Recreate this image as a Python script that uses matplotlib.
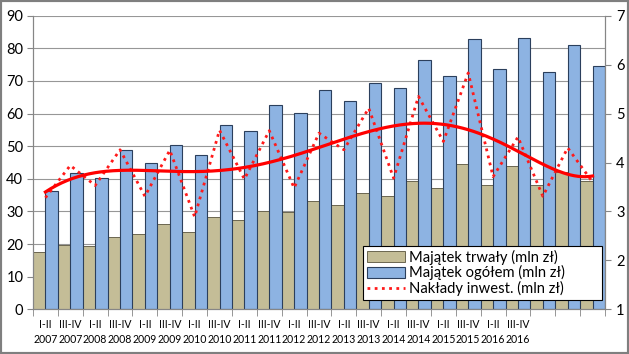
import numpy as np
import matplotlib.pyplot as plt
from matplotlib.patches import Patch, Rectangle
from matplotlib.lines import Line2D

plt.rcParams['font.family'] = ['Lato', 'DejaVu Sans']

# category labels (last three periods have no label on the axis)
periods = ['I-II\n2007', 'III-IV\n2007', 'I-II\n2008', 'III-IV\n2008', 'I-II\n2009',
           'III-IV\n2009', 'I-II\n2010', 'III-IV\n2010', 'I-II\n2011', 'III-IV\n2011',
           'I-II\n2012', 'III-IV\n2012', 'I-II\n2013', 'III-IV\n2013', 'I-II\n2014',
           'III-IV\n2014', 'I-II\n2015', 'III-IV\n2015', 'I-II\n2016', 'III-IV\n2016',
           '', '', '']

# Majatek trwaly (mln zl) - left axis
majatek_trwaly = [17.5, 19.8, 19.3, 22.1, 23.0, 26.0, 23.7, 28.3, 27.3, 30.1, 29.8, 33.1,
                  31.9, 35.6, 34.7, 39.4, 37.1, 44.6, 38.1, 44.0, 38.1, 42.2, 39.3]
# Majatek ogolem (mln zl) - left axis
majatek_ogolem = [36.2, 41.7, 40.3, 48.7, 44.8, 50.3, 47.2, 56.6, 54.8, 62.7, 60.1, 67.1,
                  63.8, 69.3, 67.8, 76.5, 71.6, 83.0, 73.6, 83.3, 72.7, 81.0, 74.5]
# Naklady inwest. (mln zl) - right axis
naklady = [3.28, 3.94, 3.53, 4.26, 3.31, 4.25, 2.89, 4.66, 3.66, 4.65, 3.48, 4.60,
           4.26, 5.11, 3.68, 5.35, 4.43, 5.83, 3.71, 4.52, 3.31, 4.30, 3.60]

x = np.arange(len(periods))

fig = plt.figure(figsize=(6.29, 3.54), dpi=100)
ax = fig.add_axes([33 / 629, (354 - 309.3) / 354, 572 / 629, 293.6 / 354])

grid_col = '#979797'
spine_col = '#868686'

# bars: tan on the left half, blue on the right half of each category
ax.bar(x - 0.25, majatek_trwaly, width=0.5, color='#c4bd97', edgecolor='#6b6650', linewidth=0.7, zorder=2)
ax.bar(x + 0.25, majatek_ogolem, width=0.5, color='#8db3e2', edgecolor='#2b3f5c', linewidth=0.8, zorder=2)

ax.set_xlim(-0.5, len(periods) - 0.5)
ax.set_ylim(0, 90)
ax.set_yticks(np.arange(0, 91, 10))
ax.yaxis.grid(True, color=grid_col, linewidth=0.8)
ax.set_axisbelow(True)

ax.set_xticks(x)
ax.set_xticklabels(periods, fontsize=7.6, linespacing=1.4)
ax.set_xticks(np.arange(-0.5, len(periods), 1), minor=True)
ax.tick_params(axis='x', which='major', length=0, pad=7)
ax.tick_params(axis='x', which='minor', length=5, color=spine_col, direction='out')
ax.tick_params(axis='y', labelsize=10.5, length=4, color=spine_col, pad=3)

ax.spines['top'].set_visible(False)
for s in ['left', 'bottom', 'right']:
    ax.spines[s].set_color(spine_col)

# right axis with the investment line and its trend
ax2 = ax.twinx()
ax2.set_ylim(1, 7)
ax2.set_yticks(np.arange(1, 8, 1))
ax2.tick_params(axis='y', labelsize=10.5, length=4, color=spine_col, pad=4)
ax2.spines['top'].set_visible(False)
for s in ['left', 'bottom', 'right']:
    ax2.spines[s].set_color(spine_col)

ax2.plot(x, naklady, color='#ff1a1a', linestyle=(0, (1, 1.6)), linewidth=2.0, zorder=3)

# polynomial trend of the investment series
coef = np.polyfit(x, naklady, 6)
xs = np.linspace(x[0], x[-1], 300)
ax2.plot(xs, np.polyval(coef, xs), color='#ff0000', linewidth=2.3, zorder=4)

handles = [Patch(facecolor='#c4bd97', edgecolor='#6b6650', linewidth=0.7),
           Patch(facecolor='#8db3e2', edgecolor='#2b3f5c', linewidth=0.8),
           Line2D([], [], color='#ff1a1a', linestyle=(0, (1, 1.6)), linewidth=2.0)]
leg = ax2.legend(handles, ['Majątek trwały (mln zł)', 'Majątek ogółem (mln zł)', 'Nakłady inwest. (mln zł)'],
                 loc='lower left', bbox_to_anchor=(0.577, 0.032, 0.418, 0.18), mode='expand',
                 borderaxespad=0, fontsize=10.6, fancybox=False, framealpha=1, edgecolor='black',
                 handlelength=2.6, handleheight=0.75, labelspacing=0.05, borderpad=0.25,
                 handletextpad=0.3)
leg.get_frame().set_linewidth(0.8)
leg.set_zorder(10)

fig.patches.append(Rectangle((0, 0), 1, 1, transform=fig.transFigure, fill=False,
                             edgecolor='#7f7f7f', linewidth=3))

fig.savefig('out.png', dpi=100)
